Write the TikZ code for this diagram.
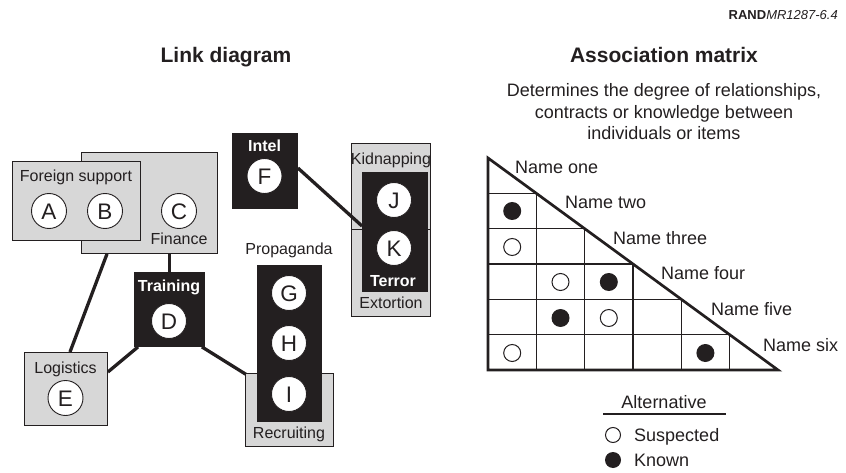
\documentclass[tikz,border=0pt]{standalone}
\usepackage{fontspec}
\setmainfont{Liberation Sans}
\usetikzlibrary{calc}
\definecolor{boxgray}{RGB}{215,215,215}
\definecolor{ink}{RGB}{35,31,32}
\pgfdeclarelayer{bg}
\pgfsetlayers{bg,main}
\begin{document}
\begin{tikzpicture}[x=1pt,y=-1pt,
  every node/.style={inner sep=0pt, text=ink},
  lbl/.style={font=\fontsize{16}{19}\selectfont, text height=11.5pt, text depth=0pt},
  wlbl/.style={font=\fontsize{16}{19}\selectfont\bfseries, text=white, text height=11.5pt, text depth=0pt},
  rlbl/.style={font=\fontsize{18}{21}\selectfont, text height=13pt, text depth=0pt},
  ttl/.style={font=\fontsize{21}{25}\selectfont\bfseries, text height=15pt, text depth=0pt},
  gbox/.style={draw=ink, line width=0.9pt, fill=boxgray, anchor=north west},
  bbox/.style={draw=ink, line width=0.9pt, fill=ink, anchor=north west},
  ent/.style={circle, draw=ink, line width=0.9pt, fill=white, minimum size=35pt,
    font=\fontsize{22.5}{26}\selectfont, text height=16.1pt, text depth=0pt},
  link/.style={draw=ink, line width=3.3pt},
  grid line/.style={draw=ink, line width=1.1pt},
  known/.style={circle, fill=ink, minimum size=18pt},
  suspect/.style={circle, draw=ink, line width=1pt, fill=white, minimum size=17pt},
]
\useasboundingbox (0,0) rectangle (846,473);

% header
\node[anchor=east, font=\fontsize{13}{15}\selectfont, text height=9.3pt, text depth=0pt] (rand) at (838,15) {\textbf{RAND}\textit{MR1287-6.4}};
\node[ttl] (ltitle) at (226,55) {Link diagram};
\node[ttl] (mtitle) at (664,55) {Association matrix};
\node[font=\fontsize{18}{21.5}\selectfont, align=center] (desc) at (664,112)
  {Determines the degree of relationships,\\contracts or knowledge between\\individuals or items};

% ---------- link diagram ----------
\node[gbox, minimum width=136pt, minimum height=101pt] (finance) at (81,152) {};
\node[gbox, minimum width=128pt, minimum height=79pt] (foreign) at (12,161) {};
\node[lbl] (foreignlbl) at (76,176) {Foreign support};
\node[lbl] (financelbl) at (179,239) {Finance};
\node[ent] (A) at (49,211) {A};
\node[ent] (B) at (105,211) {B};
\node[ent] (C) at (179,211) {C};

\node[bbox, minimum width=65pt, minimum height=75pt] (intel) at (232,133) {};
\node[wlbl] (intellbl) at (264.5,146) {Intel};
\node[ent] (F) at (264.5,176) {F};

\node[gbox, minimum width=79pt, minimum height=173pt] (kidnap) at (351,143) {};
\draw[ink, line width=0.9pt] (kidnap.west |- 0,229) -- (kidnap.east |- 0,229);
\node[lbl] (kidnaplbl) at (391,159) {Kidnapping};
\node[lbl] (extortlbl) at (391,303) {Extortion};
\node[bbox, minimum width=65pt, minimum height=119pt] (terror) at (362,172) {};
\node[ent] (J) at (394,200) {J};
\node[ent] (K) at (394,248) {K};
\node[wlbl] (terrorlbl) at (393,281) {Terror};

\node[lbl] (propalbl) at (289,249) {Propaganda};
\node[gbox, minimum width=88pt, minimum height=73pt] (recruit) at (245,373) {};
\node[bbox, minimum width=64pt, minimum height=156pt] (propa) at (257,265) {};
\node[ent] (G) at (289,293) {G};
\node[ent] (H) at (289,343) {H};
\node[ent] (I) at (289,394) {I};
\node[lbl] (recruitlbl) at (289,433) {Recruiting};

\node[bbox, minimum width=70pt, minimum height=74pt] (training) at (134,272) {};
\node[wlbl] (traininglbl) at (169,286) {Training};
\node[ent] (D) at (169,321) {D};

\node[gbox, minimum width=83pt, minimum height=73pt] (logistics) at (24,352) {};
\node[lbl] (logisticslbl) at (65.5,368) {Logistics};
\node[ent] (E) at (65.5,398) {E};

% connectors
\begin{pgfonlayer}{bg}
\draw[link] (training.north) -- (training.north |- finance.south);
\draw[link] ($(finance.south west)+(26,0)$) -- ($(logistics.north west)+(46,0)$);
\draw[link] ($(logistics.north east)+(0,20)$) -- ($(training.south west)+(4,0)$);
\draw[link] ($(training.south east)+(-3,0)$) -- ($(recruit.north west)+(2,2)$);
\end{pgfonlayer}
\draw[link] (intel.east |- 0,168) -- (terror.west |- 0,226);

% ---------- association matrix ----------
\def\mx{488}\def\my{158}\def\cw{48.33}\def\rh{35.33}
\foreach \k in {1,...,5}{
  \draw[grid line] (\mx,\my+\rh*\k) -- (\mx+\cw*\k,\my+\rh*\k);
  \draw[grid line] (\mx+\cw*\k,\my+\rh*\k) -- (\mx+\cw*\k,370);
}
\draw[ink, line width=2.7pt, line join=miter] (488,158) -- (488,370) -- (778,370) -- cycle;

\node[known]   (k1) at (512.2,211) {};
\node[suspect] (s1) at (512.2,247) {};
\node[suspect] (s2) at (560.5,282) {};
\node[known]   (k2) at (608.8,282) {};
\node[known]   (k3) at (560.5,318) {};
\node[suspect] (s3) at (608.8,318) {};
\node[suspect] (s4) at (512.2,353) {};
\node[known]   (k4) at (705.4,353) {};

\node[rlbl, anchor=west] (n1) at (515,167) {Name one};
\node[rlbl, anchor=west] (n2) at (565,202) {Name two};
\node[rlbl, anchor=west] (n3) at (613,237.5) {Name three};
\node[rlbl, anchor=west] (n4) at (661,273) {Name four};
\node[rlbl, anchor=west] (n5) at (711,309) {Name five};
\node[rlbl, anchor=west] (n6) at (763,345) {Name six};

% legend
\node[rlbl] (alt) at (664,402) {Alternative};
\draw[ink, line width=1.2pt] (603,414) -- (726,414);
\node[circle, draw=ink, line width=1pt, fill=white, minimum size=15pt] (legs) at (613,435) {};
\node[circle, fill=ink, minimum size=16pt] (legk) at (613,460) {};
\node[rlbl, anchor=west] (legslbl) at (634,435) {Suspected};
\node[rlbl, anchor=west] (legklbl) at (634,460) {Known};
\end{tikzpicture}
\end{document}
